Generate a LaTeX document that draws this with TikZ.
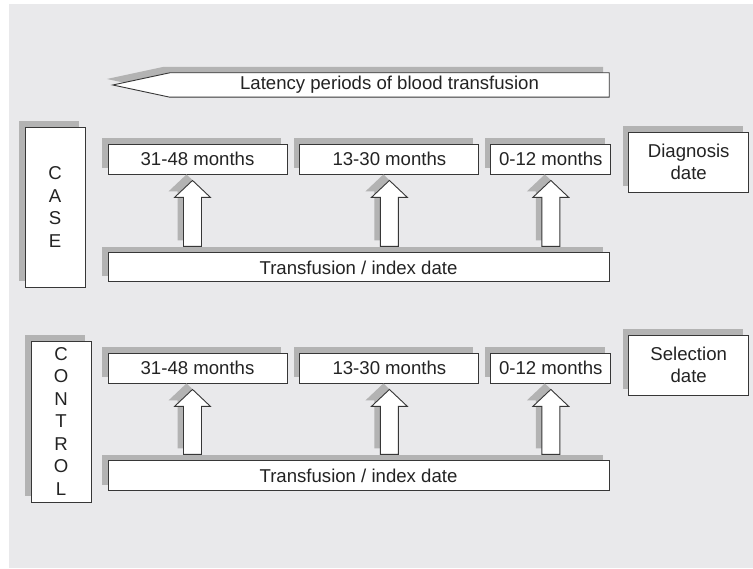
\documentclass[tikz,border=0pt]{standalone}
\usepackage{fontspec}
\setmainfont{Liberation Sans}
\usetikzlibrary{positioning,calc,shadows,backgrounds}

\definecolor{panelgrey}{RGB}{233,233,235}
\definecolor{shadowgrey}{RGB}{179,179,179}
\definecolor{edgegrey}{RGB}{55,55,55}
\definecolor{inkgrey}{RGB}{35,35,35}

% hollow up arrow between two boxes
\newcommand{\liftpart}[3]{%
  \path[#1] (#2) -- ($(#2)+(18,-17)$) -- ($(#2)+(9,-17)$) -- ($(#3)+(9,0)$)
    -- ($(#3)+(-9,0)$) -- ($(#2)+(-9,-17)$) -- ($(#2)+(-18,-17)$) -- cycle;}
\newcommand{\lift}[3]{%
  \coordinate (tip) at ($([xshift=#3pt]#2.south)+(0,-6)$);
  \coordinate (tail) at ($(tip |- #1.north)+(0,6)$);
  \coordinate (stip) at ($(tip)+(-6,6)$);
  \coordinate (stail) at ($(tail)+(-6,6)$);
  \liftpart{fill=shadowgrey}{stip}{stail}
  \liftpart{fill=white,draw=edgegrey,line width=0.9pt}{tip}{tail}}

\begin{document}
\begin{tikzpicture}[x=1pt,y=1pt,
  font=\fontsize{18.6pt}{22.5pt}\selectfont, text=inkgrey,
  box/.style={draw=edgegrey, fill=white, line width=0.9pt, inner sep=0pt, align=center,
    general shadow={fill=shadowgrey, shadow xshift=-6pt, shadow yshift=6pt}},
  month/.style={box, minimum height=30pt},
  datebox/.style={box, minimum width=120pt, minimum height=60pt}]

\useasboundingbox (0,0) rectangle (753,569);

\node[minimum width=439pt, minimum height=24pt, inner sep=0pt] (LAT) at (389.5,484)
  {Latency periods of blood transfusion};

% case row
\node[box, minimum width=60pt, minimum height=160pt] (CASE) at (55,362) {C\\A\\S\\E};
\node[month, minimum width=179pt] (A1) at (197.5,410) {31-48 months};
\node[month, minimum width=179pt] (A2) [right=12pt of A1] {13-30 months};
\node[month, minimum width=120pt] (A3) [right=11pt of A2] {0-12 months};
\node[datebox] (DX) [right=17pt of A3, yshift=-3pt] {Diagnosis\\date};
\node[month, minimum width=501pt, minimum height=29pt] (T1)
  [below=78pt of A1.south west, anchor=north west] {Transfusion / index date};

% control row
\node[box, minimum width=60pt, minimum height=161pt] (CONTROL) at (61,147.5)
  {C\\O\\N\\T\\R\\O\\L};
\node[month, minimum width=179pt] (B1) at (197.5,201) {31-48 months};
\node[month, minimum width=179pt] (B2) [right=12pt of B1] {13-30 months};
\node[month, minimum width=120pt] (B3) [right=11pt of B2] {0-12 months};
\node[datebox] (SEL) [right=17pt of B3, yshift=3pt] {Selection\\date};
\node[month, minimum width=501pt, minimum height=30pt] (T2)
  [below=77pt of B1.south west, anchor=north west] {Transfusion / index date};

\lift{T1}{A1}{-5}
\lift{T1}{A2}{0}
\lift{T1}{A3}{0}
\lift{T2}{B1}{-5}
\lift{T2}{B2}{0}
\lift{T2}{B3}{0}

\begin{scope}[on background layer]
  \fill[panelgrey] (9,1) rectangle (753,565);
  \fill[shadowgrey] ($(LAT.north east)+(-6,6)$) -- ($(LAT.north west)+(-6,6)$)
    -- ($(LAT.west)+(-63,6)$) -- ($(LAT.south west)+(-6,6)$)
    -- ($(LAT.south east)+(-6,6)$) -- cycle;
  \filldraw[fill=white, draw=edgegrey, line width=0.9pt] (LAT.north east)
    -- (LAT.north west) -- ($(LAT.west)+(-57,0)$) -- (LAT.south west)
    -- (LAT.south east) -- cycle;
\end{scope}

\end{tikzpicture}
\end{document}
